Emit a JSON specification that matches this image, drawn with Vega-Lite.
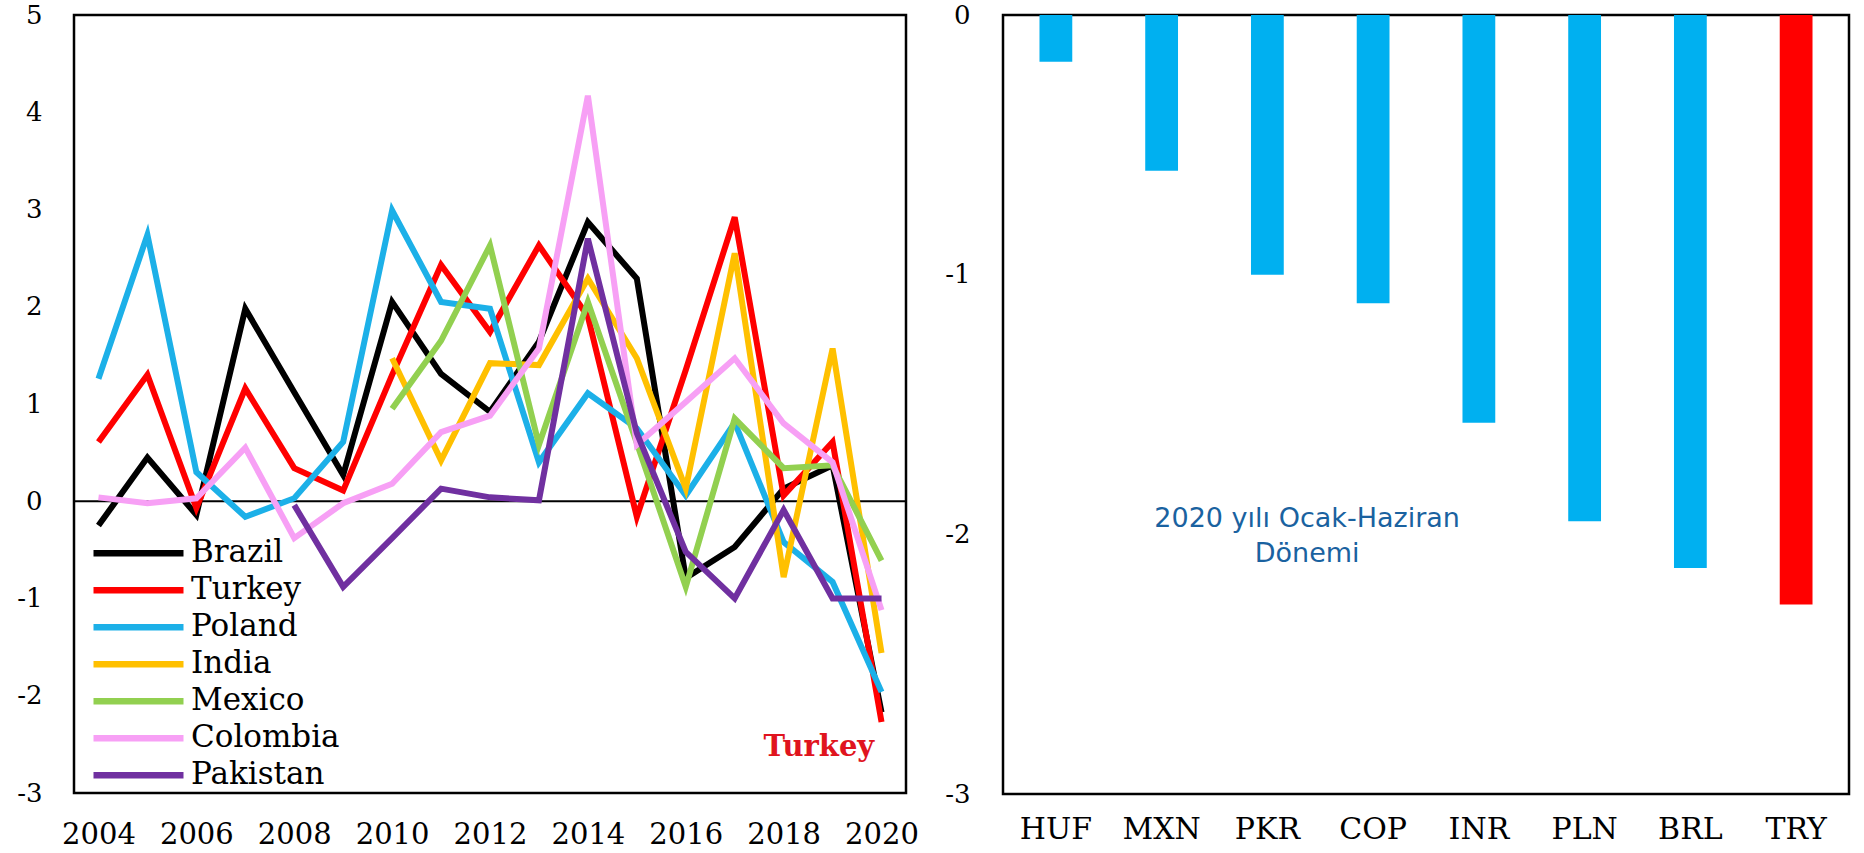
{
  "$schema": "https://vega.github.io/schema/vega-lite/v6.json",
  "background": "white",
  "padding": {"left": 15, "top": 0, "right": 0, "bottom": 0},
  "spacing": 23,
  "config": {
    "view": {"stroke": "black", "strokeWidth": 2.5},
    "axis": {"grid": false, "domain": false, "ticks": false, "labelFont": "DejaVu Serif", "labelColor": "black"}
  },
  "resolve": {"scale": {"color": "independent"}},
  "hconcat": [
    {
      "width": 832,
      "height": 778,
      "layer": [
        {
          "data": {"values": [{"value": 0}]},
          "mark": {"type": "rule", "color": "black", "strokeWidth": 2},
          "encoding": {
            "y": {"field": "value", "type": "quantitative", "scale": {"domain": [-3, 5], "nice": false}, "axis": {"title": null, "values": [-3, -2, -1, 0, 1, 2, 3, 4, 5], "labelExpr": "'' + datum.value", "labelFontSize": 26, "labelPadding": 32}}
          }
        },
        {
          "data": {"values": [
            {"country": "Brazil", "year": 2004, "value": -0.25},
            {"country": "Brazil", "year": 2005, "value": 0.45},
            {"country": "Brazil", "year": 2006, "value": -0.14},
            {"country": "Brazil", "year": 2007, "value": 1.98},
            {"country": "Brazil", "year": 2008, "value": 1.12},
            {"country": "Brazil", "year": 2009, "value": 0.27},
            {"country": "Brazil", "year": 2010, "value": 2.05},
            {"country": "Brazil", "year": 2011, "value": 1.31},
            {"country": "Brazil", "year": 2012, "value": 0.92},
            {"country": "Brazil", "year": 2013, "value": 1.64},
            {"country": "Brazil", "year": 2014, "value": 2.87},
            {"country": "Brazil", "year": 2015, "value": 2.29},
            {"country": "Brazil", "year": 2016, "value": -0.79},
            {"country": "Brazil", "year": 2017, "value": -0.47},
            {"country": "Brazil", "year": 2018, "value": 0.13},
            {"country": "Brazil", "year": 2019, "value": 0.37},
            {"country": "Brazil", "year": 2020, "value": -2.17},
            {"country": "Turkey", "year": 2004, "value": 0.61},
            {"country": "Turkey", "year": 2005, "value": 1.30},
            {"country": "Turkey", "year": 2006, "value": -0.07},
            {"country": "Turkey", "year": 2007, "value": 1.16},
            {"country": "Turkey", "year": 2008, "value": 0.34},
            {"country": "Turkey", "year": 2009, "value": 0.11},
            {"country": "Turkey", "year": 2010, "value": 1.30},
            {"country": "Turkey", "year": 2011, "value": 2.43},
            {"country": "Turkey", "year": 2012, "value": 1.74},
            {"country": "Turkey", "year": 2013, "value": 2.63},
            {"country": "Turkey", "year": 2014, "value": 1.90},
            {"country": "Turkey", "year": 2015, "value": -0.16},
            {"country": "Turkey", "year": 2016, "value": 1.35},
            {"country": "Turkey", "year": 2017, "value": 2.92},
            {"country": "Turkey", "year": 2018, "value": 0.06},
            {"country": "Turkey", "year": 2019, "value": 0.61},
            {"country": "Turkey", "year": 2020, "value": -2.27},
            {"country": "Poland", "year": 2004, "value": 1.26},
            {"country": "Poland", "year": 2005, "value": 2.74},
            {"country": "Poland", "year": 2006, "value": 0.30},
            {"country": "Poland", "year": 2007, "value": -0.16},
            {"country": "Poland", "year": 2008, "value": 0.03},
            {"country": "Poland", "year": 2009, "value": 0.61},
            {"country": "Poland", "year": 2010, "value": 2.99},
            {"country": "Poland", "year": 2011, "value": 2.05},
            {"country": "Poland", "year": 2012, "value": 1.98},
            {"country": "Poland", "year": 2013, "value": 0.40},
            {"country": "Poland", "year": 2014, "value": 1.11},
            {"country": "Poland", "year": 2015, "value": 0.75},
            {"country": "Poland", "year": 2016, "value": 0.06},
            {"country": "Poland", "year": 2017, "value": 0.81},
            {"country": "Poland", "year": 2018, "value": -0.42},
            {"country": "Poland", "year": 2019, "value": -0.83},
            {"country": "Poland", "year": 2020, "value": -1.96},
            {"country": "India", "year": 2010, "value": 1.47},
            {"country": "India", "year": 2011, "value": 0.42},
            {"country": "India", "year": 2012, "value": 1.42},
            {"country": "India", "year": 2013, "value": 1.40},
            {"country": "India", "year": 2014, "value": 2.29},
            {"country": "India", "year": 2015, "value": 1.47},
            {"country": "India", "year": 2016, "value": 0.13},
            {"country": "India", "year": 2017, "value": 2.55},
            {"country": "India", "year": 2018, "value": -0.78},
            {"country": "India", "year": 2019, "value": 1.57},
            {"country": "India", "year": 2020, "value": -1.56},
            {"country": "Mexico", "year": 2010, "value": 0.95},
            {"country": "Mexico", "year": 2011, "value": 1.65},
            {"country": "Mexico", "year": 2012, "value": 2.63},
            {"country": "Mexico", "year": 2013, "value": 0.58},
            {"country": "Mexico", "year": 2014, "value": 2.05},
            {"country": "Mexico", "year": 2015, "value": 0.60},
            {"country": "Mexico", "year": 2016, "value": -0.88},
            {"country": "Mexico", "year": 2017, "value": 0.85},
            {"country": "Mexico", "year": 2018, "value": 0.34},
            {"country": "Mexico", "year": 2019, "value": 0.37},
            {"country": "Mexico", "year": 2020, "value": -0.61},
            {"country": "Colombia", "year": 2004, "value": 0.04},
            {"country": "Colombia", "year": 2005, "value": -0.02},
            {"country": "Colombia", "year": 2006, "value": 0.03},
            {"country": "Colombia", "year": 2007, "value": 0.55},
            {"country": "Colombia", "year": 2008, "value": -0.38},
            {"country": "Colombia", "year": 2009, "value": -0.02},
            {"country": "Colombia", "year": 2010, "value": 0.18},
            {"country": "Colombia", "year": 2011, "value": 0.71},
            {"country": "Colombia", "year": 2012, "value": 0.88},
            {"country": "Colombia", "year": 2013, "value": 1.57},
            {"country": "Colombia", "year": 2014, "value": 4.17},
            {"country": "Colombia", "year": 2015, "value": 0.58},
            {"country": "Colombia", "year": 2016, "value": 1.02},
            {"country": "Colombia", "year": 2017, "value": 1.47},
            {"country": "Colombia", "year": 2018, "value": 0.80},
            {"country": "Colombia", "year": 2019, "value": 0.40},
            {"country": "Colombia", "year": 2020, "value": -1.12},
            {"country": "Pakistan", "year": 2008, "value": -0.04},
            {"country": "Pakistan", "year": 2009, "value": -0.88},
            {"country": "Pakistan", "year": 2010, "value": -0.38},
            {"country": "Pakistan", "year": 2011, "value": 0.13},
            {"country": "Pakistan", "year": 2012, "value": 0.04},
            {"country": "Pakistan", "year": 2013, "value": 0.01},
            {"country": "Pakistan", "year": 2014, "value": 2.70},
            {"country": "Pakistan", "year": 2015, "value": 0.70},
            {"country": "Pakistan", "year": 2016, "value": -0.52},
            {"country": "Pakistan", "year": 2017, "value": -1.00},
            {"country": "Pakistan", "year": 2018, "value": -0.09},
            {"country": "Pakistan", "year": 2019, "value": -1.00},
            {"country": "Pakistan", "year": 2020, "value": -1.00}
          ]},
          "mark": {"type": "line", "strokeWidth": 6},
          "encoding": {
            "x": {"field": "year", "type": "quantitative", "scale": {"domain": [2003.5, 2020.5], "nice": false, "zero": false}, "axis": {"title": null, "values": [2004, 2006, 2008, 2010, 2012, 2014, 2016, 2018, 2020], "format": "d", "labelFontSize": 29, "labelPadding": 27}},
            "y": {"field": "value", "type": "quantitative", "scale": {"domain": [-3, 5], "nice": false}, "axis": {"title": null, "values": [-3, -2, -1, 0, 1, 2, 3, 4, 5], "labelExpr": "'' + datum.value", "labelFontSize": 26, "labelPadding": 32}},
            "color": {
              "field": "country", "type": "nominal",
              "scale": {"domain": ["Brazil", "Turkey", "Poland", "India", "Mexico", "Colombia", "Pakistan"], "range": ["#000000", "#ff0000", "#1cb0e8", "#ffc000", "#92d050", "#f7a0f5", "#7030a0"]},
              "legend": {"orient": "none", "legendX": 16, "legendY": 520, "title": null, "symbolType": "stroke", "symbolSize": 8100, "symbolStrokeWidth": 6.5, "clipHeight": 36.7, "labelFont": "DejaVu Serif", "labelFontSize": 31, "labelColor": "black", "labelOffset": 4, "rowPadding": 0, "padding": 0}
            }
          }
        },
        {
          "data": {"values": [{"year": 2019.85, "value": -2.53, "label": "Turkey"}]},
          "mark": {"type": "text", "align": "right", "baseline": "middle", "font": "DejaVu Serif", "fontWeight": "bold", "fontSize": 29, "color": "#e0141e"},
          "encoding": {
            "x": {"field": "year", "type": "quantitative", "scale": {"domain": [2003.5, 2020.5], "nice": false, "zero": false}},
            "y": {"field": "value", "type": "quantitative", "scale": {"domain": [-3, 5], "nice": false}},
            "text": {"field": "label"}
          }
        }
      ]
    },
    {
      "width": 846,
      "height": 779,
      "layer": [
        {
          "data": {"values": [
            {"currency": "HUF", "value": -0.18},
            {"currency": "MXN", "value": -0.60},
            {"currency": "PKR", "value": -1.00},
            {"currency": "COP", "value": -1.11},
            {"currency": "INR", "value": -1.57},
            {"currency": "PLN", "value": -1.95},
            {"currency": "BRL", "value": -2.13},
            {"currency": "TRY", "value": -2.27}
          ]},
          "mark": {"type": "bar"},
          "encoding": {
            "x": {"field": "currency", "type": "nominal", "sort": null, "scale": {"paddingInner": 0.69, "paddingOuter": 0.345}, "axis": {"title": null, "labelAngle": 0, "labelFontSize": 30, "labelPadding": 20}},
            "y": {"field": "value", "type": "quantitative", "scale": {"domain": [-3, 0], "nice": false}, "axis": {"title": null, "values": [-3, -2, -1, 0], "labelExpr": "'' + datum.value", "labelFontSize": 26, "labelPadding": 33}},
            "color": {"condition": {"test": "datum.currency === 'TRY'", "value": "#ff0000"}, "value": "#00b0f0"}
          }
        },
        {
          "data": {"values": [{"currency": "COP", "value": -1.94, "note": "2020 yılı Ocak-Haziran|Dönemi"}]},
          "mark": {"type": "text", "align": "center", "baseline": "middle", "lineBreak": "|", "lineHeight": 35, "font": "DejaVu Sans", "fontSize": 27, "color": "#1a62a0", "dx": -66},
          "encoding": {
            "x": {"field": "currency", "type": "nominal", "sort": null},
            "y": {"field": "value", "type": "quantitative", "scale": {"domain": [-3, 0], "nice": false}},
            "text": {"field": "note"}
          }
        }
      ]
    }
  ]
}
